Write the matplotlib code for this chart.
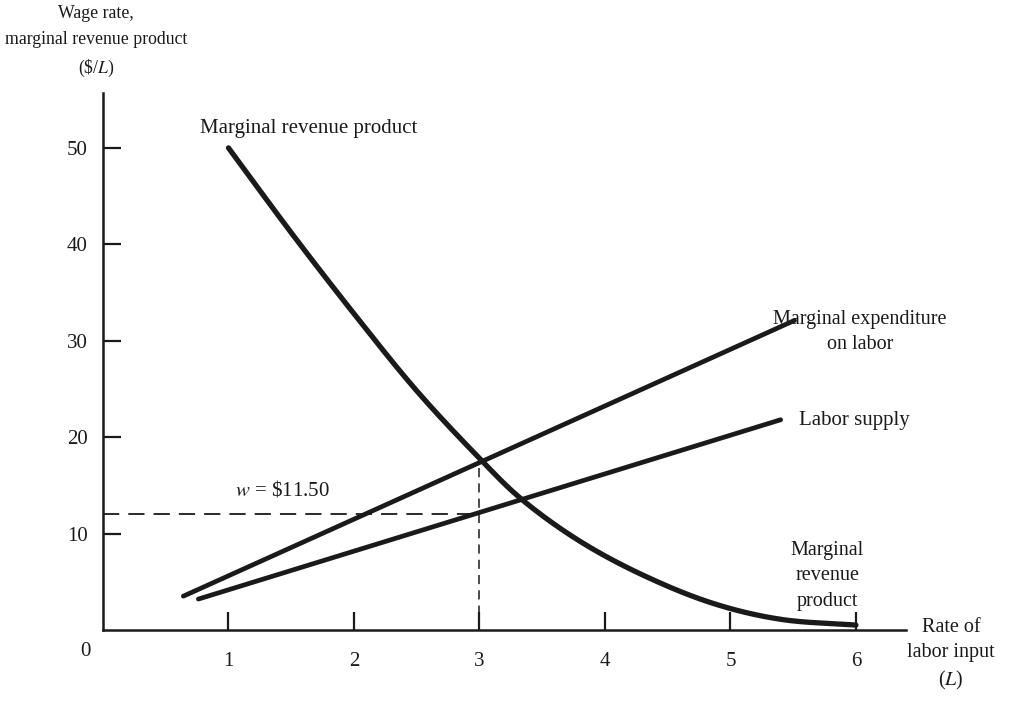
import numpy as np
import matplotlib
matplotlib.use("Agg")
import matplotlib.pyplot as plt

# values
mrp_L = [1.0, 1.5, 2.0, 2.5, 3.0, 3.35, 3.8, 4.3, 4.85, 5.4, 6.0]
mrp_w = [50.0, 41.2, 32.8, 24.8, 17.8, 13.4, 9.2, 5.7, 2.8, 1.1, 0.5]

me_L = [0.64, 5.51]
me_w = [3.5, 32.1]

supply_L = [0.76, 5.40]
supply_w = [3.2, 21.8]

wage = 12.0
L_star = 3.0
me_at_star = 17.6

x_ticks = [1, 2, 3, 4, 5, 6]
y_ticks = [10, 20, 30, 40, 50]

plt.rcParams['font.family'] = ['Liberation Serif', 'DejaVu Serif']
plt.rcParams['mathtext.fontset'] = 'stix'
ink = '#1a1a1a'


def catmull_rom(xs, ys, n=30):
    # smooth curve through the read points
    p = np.column_stack([xs, ys])
    p = np.vstack([2 * p[0] - p[1], p, 2 * p[-1] - p[-2]])
    out = []
    for i in range(1, len(p) - 2):
        p0, p1, p2, p3 = p[i - 1], p[i], p[i + 1], p[i + 2]
        t = np.linspace(0, 1, n, endpoint=False)[:, None]
        seg = 0.5 * ((2 * p1) + (-p0 + p2) * t + (2 * p0 - 5 * p1 + 4 * p2 - p3) * t ** 2
                     + (-p0 + 3 * p1 - 3 * p2 + p3) * t ** 3)
        out.append(seg)
    out.append(p[-2][None, :])
    out = np.vstack(out)
    return out[:, 0], out[:, 1]


fig = plt.figure(figsize=(10.27, 7.15), dpi=100)
ax = fig.add_axes([0.1003, 0.119, 0.782, 0.751])

cx, cy = catmull_rom(mrp_L, mrp_w)
ax.plot(cx, cy, color=ink, lw=3.8, solid_capstyle='round')
ax.plot(me_L, me_w, color=ink, lw=3.4, solid_capstyle='round')
ax.plot(supply_L, supply_w, color=ink, lw=3.4, solid_capstyle='round')

# dashed guides
ax.plot([0, L_star], [wage, wage], color=ink, lw=1.3, dashes=(9, 5))
ax.plot([L_star, L_star], [0, me_at_star], color=ink, lw=1.1, dashes=(6, 4))

ax.set_xlim(0, 6.4)
ax.set_ylim(0, 55.7)
ax.set_xticks(x_ticks)
ax.set_yticks(y_ticks)
ax.tick_params(direction='in', length=13, width=1.6, labelsize=15, colors=ink)
ax.tick_params(axis='x', pad=16)
ax.tick_params(axis='y', pad=11)
for s in ['top', 'right']:
    ax.spines[s].set_visible(False)
for s in ['left', 'bottom']:
    ax.spines[s].set_linewidth(1.8)
    ax.spines[s].set_color(ink)

fs = 15
ls = 1.45
ax.text(0.77, 52.0, 'Marginal revenue product', fontsize=fs, ha='left', va='center', color=ink)
ax.text(6.03, 30.9, 'Marginal expenditure\non labor', fontsize=14.5, ha='center', va='center',
        multialignment='center', color=ink, clip_on=False, linespacing=ls)
ax.text(5.55, 21.7, 'Labor supply', fontsize=fs, ha='left', va='center', color=ink, clip_on=False)
ax.text(5.77, 5.6, 'Marginal\nrevenue\nproduct', fontsize=14.5, ha='center', va='center',
        multialignment='center', color=ink, linespacing=ls)
ax.text(6.76, -2.6, 'Rate of\nlabor input\n($L$)', fontsize=14.5, ha='center', va='center',
        multialignment='center', color=ink, clip_on=False, linespacing=ls)
ax.text(1.05, 14.5, r'$w$ = \$11.50', fontsize=fs, ha='left', va='center', color=ink)
ax.text(-0.14, -2.2, '0', fontsize=fs, ha='center', va='center', color=ink, clip_on=False)

fig.text(96 / 1027, 1 - 42 / 715, 'Wage rate,\nmarginal revenue product\n(\\$/$L$)', fontsize=12.8,
         ha='center', va='center', multialignment='center', color=ink, linespacing=1.7)

fig.savefig('out.png', dpi=100, facecolor='white')
